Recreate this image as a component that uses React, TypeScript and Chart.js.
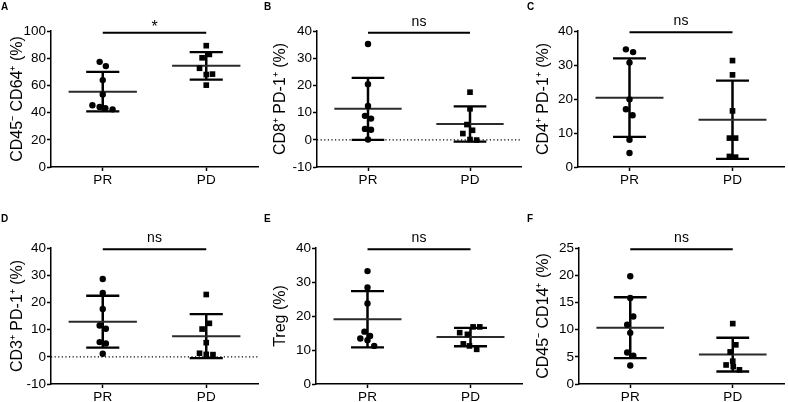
import React, { useEffect, useRef } from 'react';
import { Chart, registerables } from 'chart.js';

Chart.register(...registerables);

const FONT = "'Liberation Sans', Arial, Helvetica, sans-serif";
Chart.defaults.font.family = FONT;
Chart.defaults.color = '#000';

// ---- data ----
const categories = ['PR', 'PD'];
const groupCenters = [0.5, 1.5];
const panelLetters = ['A', 'B', 'C', 'D', 'E', 'F'];
const yTitles = ['CD45⁻ CD64⁺ (%)', 'CD8⁺ PD-1⁺ (%)', 'CD4⁺ PD-1⁺ (%)', 'CD3⁺ PD-1⁺ (%)', 'Treg (%)', 'CD45⁻ CD14⁺ (%)'];
const significance = ['*', 'ns', 'ns', 'ns', 'ns', 'ns'];
const yMins = [0, -10, 0, -10, 0, 0];
const yMaxs = [100, 40, 40, 40, 40, 25];
const ySteps = [20, 10, 10, 10, 10, 5];
const sigBarLevels = [98.8, 39.4, 39.6, 39.5, 39.6, 24.75];
const zeroLinePanels = [false, true, false, true, false, false];

// Panel A
const aPR = [77.3, 74.2, 63.9, 53.4, 45.4, 44.2, 43.2, 42.4];
const aPRJitter = [-0.03, 0.03, 0, 0, -0.1, -0.03, 0.025, 0.095];
const aPD = [89.2, 82.8, 80.3, 72.6, 68.0, 68.3, 60.2];
const aPDJitter = [0, 0.03, -0.04, -0.065, 0, 0.06, 0];
// Panel B
const bPR = [35.2, 20.4, 12.4, 8.8, 7.8, 4.0, 3.7, 0.1];
const bPRJitter = [0, 0, 0, -0.03, 0.03, -0.03, 0.03, 0];
const bPD = [17.5, 11.4, 5.6, 3.5, 2.3, 0.1, -0.1];
const bPDJitter = [0, 0, -0.03, 0.025, -0.07, 0, 0.065];
// Panel C
const cPR = [34.6, 33.8, 30.7, 19.9, 17.0, 15.2, 8.0, 4.1];
const cPRJitter = [-0.035, 0.035, 0, 0, -0.035, 0.03, 0, 0];
const cPD = [31.3, 27.1, 16.5, 8.5, 8.5, 3.1, 2.9];
const cPDJitter = [0, 0, 0, -0.03, 0.03, -0.03, 0.03];
// Panel D
const dPR = [28.6, 23.5, 17.6, 11.5, 10.3, 5.4, 4.9, 1.1];
const dPRJitter = [0, 0, 0, -0.03, 0.03, -0.03, 0.03, 0];
const dPD = [22.9, 12.3, 10.2, 5.2, 1.3, 0.9, 0.8];
const dPDJitter = [0, 0.03, -0.04, 0, -0.065, 0, 0.065];
// Panel E
const ePR = [33.2, 28.4, 23.7, 15.4, 13.4, 14.1, 12.9, 11.2];
const ePRJitter = [0, 0, 0, -0.03, -0.07, 0.025, 0, 0.065];
const ePD = [16.8, 16.8, 15.1, 14.6, 11.8, 11.2, 10.2];
const ePDJitter = [0.025, 0.09, -0.105, -0.03, -0.07, -0.01, 0.06];
// Panel F
const fPR = [19.8, 15.8, 12.4, 10.9, 9.4, 5.8, 5.2, 3.4];
const fPRJitter = [0, 0, 0.03, -0.03, 0, -0.03, 0.03, 0];
const fPD = [11.1, 7.2, 5.9, 4.2, 3.5, 3.2, 2.6];
const fPDJitter = [0, 0.03, -0.025, 0, -0.065, 0.005, 0.065];

// mean and SD
const meanPR = [55.4, 11.4, 20.4, 12.9, 19.05, 10.35];
const sdPR = [14.5, 11.4, 11.55, 9.55, 8.25, 5.6];
const meanPD = [74.4, 5.8, 13.9, 7.6, 13.8, 5.4];
const sdPD = [10.1, 6.5, 11.5, 8.1, 2.7, 3.1];

const prValues = [aPR, bPR, cPR, dPR, ePR, fPR];
const prJitters = [aPRJitter, bPRJitter, cPRJitter, dPRJitter, ePRJitter, fPRJitter];
const pdValues = [aPD, bPD, cPD, dPD, ePD, fPD];
const pdJitters = [aPDJitter, bPDJitter, cPDJitter, dPDJitter, ePDJitter, fPDJitter];

// ---- layout (pixels) ----
const panelBoxes = [
  { left: 0, top: 0, width: 263, height: 200, axisX: 51, axisTop: 31, axisBottom: 167, axisRight: 258, letterX: 1, letterY: 7.5 },
  { left: 263, top: 0, width: 263, height: 200, axisX: 317, axisTop: 31, axisBottom: 167, axisRight: 521, letterX: 1, letterY: 7.5 },
  { left: 526, top: 0, width: 262, height: 200, axisX: 578, axisTop: 31, axisBottom: 167, axisRight: 784, letterX: 1, letterY: 7.5 },
  { left: 0, top: 200, width: 263, height: 202, axisX: 51, axisTop: 248, axisBottom: 384, axisRight: 258, letterX: 1, letterY: 19.5 },
  { left: 263, top: 200, width: 263, height: 202, axisX: 316, axisTop: 248, axisBottom: 384, axisRight: 522, letterX: 1, letterY: 19.5 },
  { left: 526, top: 200, width: 262, height: 202, axisX: 579, axisTop: 248, axisBottom: 384, axisRight: 785, letterX: 1, letterY: 19.5 },
];

function lineDataset(data: any[], width: number, color: string, dash: number[] = []) {
  return {
    type: 'scatter',
    data,
    showLine: true,
    borderColor: color,
    borderWidth: width,
    borderDash: dash,
    borderCapStyle: 'butt',
    pointRadius: 0,
    pointHoverRadius: 0,
    fill: false,
    clip: false,
  };
}

function buildConfig(i: number): any {
  const box = panelBoxes[i];
  const groups = [
    { vals: prValues[i], jit: prJitters[i], mean: meanPR[i], sd: sdPR[i], style: 'circle', radius: 3.2 },
    { vals: pdValues[i], jit: pdJitters[i], mean: meanPD[i], sd: sdPD[i], style: 'rect', radius: 4 },
  ];
  const datasets: any[] = [];
  groups.forEach((g, gi) => {
    const c = groupCenters[gi];
    datasets.push({
      type: 'scatter',
      data: g.vals.map((v, k) => ({ x: c + g.jit[k], y: v })),
      pointStyle: g.style,
      pointRadius: g.radius,
      pointHoverRadius: g.radius,
      backgroundColor: '#000',
      borderColor: '#000',
      borderWidth: 0,
      showLine: false,
      clip: false,
    });
    datasets.push(lineDataset([{ x: c - 0.33, y: g.mean }, { x: c + 0.33, y: g.mean }], 2, '#2b2b2b'));
    datasets.push(lineDataset([{ x: c, y: g.mean - g.sd }, { x: c, y: g.mean + g.sd }], 2.5, '#000'));
    datasets.push(lineDataset([{ x: c - 0.16, y: g.mean + g.sd }, { x: c + 0.16, y: g.mean + g.sd }], 2.3, '#000'));
    datasets.push(lineDataset([{ x: c - 0.16, y: g.mean - g.sd }, { x: c + 0.16, y: g.mean - g.sd }], 2.3, '#000'));
  });
  datasets.push(lineDataset([{ x: groupCenters[0], y: sigBarLevels[i] }, { x: groupCenters[1], y: sigBarLevels[i] }], 2, '#000'));
  if (zeroLinePanels[i]) {
    datasets.push(lineDataset([{ x: 0, y: 0 }, { x: 2, y: 0 }], 1.2, '#000', [1.2, 2.4]));
  }

  const decor = {
    id: 'panelDecor' + i,
    afterDraw(chart: any) {
      const { ctx, scales } = chart;
      ctx.save();
      ctx.fillStyle = '#000';
      ctx.font = `bold 10px ${FONT}`;
      ctx.textAlign = 'left';
      ctx.textBaseline = 'middle';
      ctx.fillText(panelLetters[i], box.letterX, box.letterY);
      const x = (scales.x.getPixelForValue(groupCenters[0]) + scales.x.getPixelForValue(groupCenters[1])) / 2;
      const y = scales.y.getPixelForValue(sigBarLevels[i]);
      ctx.textAlign = 'center';
      ctx.textBaseline = 'alphabetic';
      if (significance[i] === '*') {
        ctx.font = `16px ${FONT}`;
        ctx.fillText(significance[i], x, y - 0.5);
      } else {
        ctx.font = `14px ${FONT}`;
        ctx.fillText(significance[i], x, y - 7);
      }
      ctx.restore();
    },
  };

  const tickGrid = {
    display: true,
    drawOnChartArea: false,
    drawTicks: true,
    tickLength: 4,
    tickWidth: 1.5,
    tickColor: '#000',
  };

  return {
    type: 'scatter',
    data: { datasets },
    plugins: [decor],
    options: {
      responsive: false,
      animation: false,
      devicePixelRatio: 1,
      events: [],
      layout: {
        padding: {
          left: 0,
          top: box.axisTop - box.top,
          right: box.left + box.width - box.axisRight,
          bottom: 0,
        },
      },
      plugins: { legend: { display: false }, tooltip: { enabled: false } },
      scales: {
        x: {
          type: 'linear',
          min: 0,
          max: 2,
          afterBuildTicks: (scale: any) => {
            scale.ticks = groupCenters.map((v) => ({ value: v }));
          },
          afterFit: (scale: any) => {
            scale.height = box.top + box.height - box.axisBottom;
          },
          ticks: {
            autoSkip: false,
            maxRotation: 0,
            padding: 1,
            color: '#000',
            font: { size: 13.5, family: FONT },
            callback: (_v: any, idx: number) => categories[idx],
          },
          grid: tickGrid,
          border: { display: true, color: '#000', width: 1.5 },
        },
        y: {
          type: 'linear',
          min: yMins[i],
          max: yMaxs[i],
          afterFit: (scale: any) => {
            scale.width = box.axisX - box.left;
          },
          ticks: {
            stepSize: ySteps[i],
            padding: 1,
            color: '#000',
            font: { size: 13.5, family: FONT },
          },
          grid: tickGrid,
          border: { display: true, color: '#000', width: 1.5 },
          title: {
            display: true,
            text: yTitles[i],
            color: '#000',
            font: { size: 16, family: FONT },
            padding: { top: 8, bottom: 0 },
          },
        },
      },
    },
  };
}

function Panel({ index }: { index: number }) {
  const ref = useRef<HTMLCanvasElement>(null);
  const box = panelBoxes[index];
  useEffect(() => {
    const canvas = ref.current;
    if (!canvas) return;
    const chart = new Chart(canvas, buildConfig(index));
    return () => chart.destroy();
  }, [index]);
  return (
    <canvas
      ref={ref}
      width={box.width}
      height={box.height}
      style={{ position: 'absolute', left: box.left, top: box.top, width: box.width, height: box.height }}
    />
  );
}

export default function App() {
  return (
    <div style={{ position: 'absolute', left: 0, top: 0, width: 788, height: 402, background: '#fff', overflow: 'hidden' }}>
      {panelLetters.map((_, i) => (
        <Panel key={i} index={i} />
      ))}
    </div>
  );
}
